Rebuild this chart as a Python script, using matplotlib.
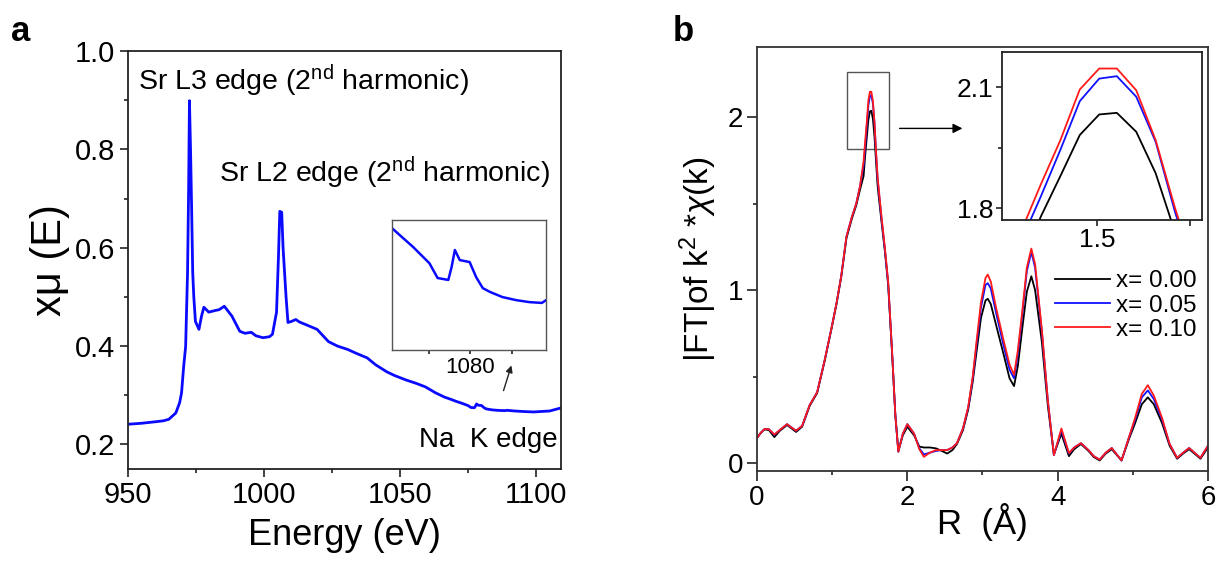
import matplotlib
matplotlib.use("Agg")
import matplotlib.pyplot as plt
from matplotlib.patches import Rectangle

plt.rcParams['font.family'] = ['Liberation Sans', 'DejaVu Sans']
plt.rcParams['mathtext.fontset'] = 'custom'
plt.rcParams['mathtext.rm'] = 'Liberation Sans'
plt.rcParams['mathtext.it'] = 'Liberation Sans:italic'

# ---- panel a: Sr L-edge / Na K-edge XAS ----
energy = [950, 955, 960, 963, 965, 967.6, 969.0, 969.7, 970.5, 971.2,
          971.9, 972.3, 972.6, 973.0, 973.4, 973.8, 974.2, 974.8, 976.1, 977.0,
          977.9, 979.7, 981.8, 983.5, 985.4, 988.2, 991.1, 993.0, 995.3, 997.0,
          999.6, 1002.0, 1003.1, 1004.6, 1005.3, 1005.8, 1006.5, 1007.0, 1008.1, 1008.8,
          1010.0, 1011.7, 1013.0, 1015.2, 1019.5, 1023.7, 1027, 1030.8, 1034, 1037.9,
          1041, 1045, 1048, 1052.2, 1056, 1059.3, 1063, 1066.4, 1068.5, 1070.4,
          1071.4, 1073.0, 1075.0, 1076.0, 1077.3, 1077.7, 1078.1, 1078.7, 1079.9, 1080.7,
          1081.5, 1082.4, 1083.9, 1085.6, 1087.2, 1088.7, 1089.2, 1092, 1095, 1099,
          1102, 1105, 1109]
mu = [0.241, 0.243, 0.246, 0.248, 0.251, 0.264, 0.285, 0.305, 0.36, 0.399,
      0.55, 0.72, 0.899, 0.80, 0.68, 0.55, 0.50, 0.45, 0.434, 0.46,
      0.479, 0.469, 0.472, 0.474, 0.481, 0.461, 0.430, 0.426, 0.428, 0.421,
      0.417, 0.419, 0.424, 0.469, 0.58, 0.674, 0.672, 0.60, 0.50, 0.448,
      0.450, 0.454, 0.449, 0.444, 0.434, 0.409, 0.400, 0.393, 0.385, 0.376,
      0.362, 0.348, 0.340, 0.331, 0.324, 0.317, 0.305, 0.296, 0.292, 0.288,
      0.2861, 0.2831, 0.2789, 0.2751, 0.2746, 0.2779, 0.2823, 0.2797, 0.2792, 0.2753,
      0.2725, 0.2715, 0.2702, 0.2694, 0.2689, 0.2687, 0.2694, 0.268, 0.267, 0.266,
      0.267, 0.268, 0.274]

# ---- panel b: |FT| of k^2 chi(k) ----
r = [0.00, 0.05, 0.10, 0.16, 0.23, 0.30, 0.40, 0.46, 0.52, 0.60,
     0.70, 0.80, 0.90, 1.00, 1.06, 1.12, 1.19, 1.26, 1.32, 1.37,
     1.418, 1.439, 1.460, 1.481, 1.502, 1.521, 1.542, 1.563, 1.584, 1.605,
     1.65, 1.70, 1.745, 1.80, 1.84, 1.88, 1.94, 2.00, 2.09, 2.16,
     2.22, 2.30, 2.38, 2.46, 2.53, 2.60, 2.66, 2.74, 2.81, 2.87,
     2.92, 2.98, 3.04, 3.07, 3.11, 3.18, 3.28, 3.36, 3.42, 3.47,
     3.53, 3.59, 3.65, 3.70, 3.79, 3.87, 3.95, 4.05, 4.15, 4.22,
     4.31, 4.41, 4.48, 4.56, 4.64, 4.72, 4.85, 4.95, 5.03, 5.12,
     5.20, 5.28, 5.39, 5.49, 5.59, 5.67, 5.75, 5.82, 5.90, 6.00]
ft_000 = [0.145, 0.175, 0.195, 0.190, 0.150, 0.185, 0.220, 0.200, 0.180, 0.210,
          0.330, 0.405, 0.590, 0.795, 0.925, 1.075, 1.30, 1.41, 1.49, 1.58,
          1.66, 1.78, 1.88, 1.982, 2.033, 2.037, 1.99, 1.887, 1.74, 1.60,
          1.42, 1.23, 1.03, 0.61, 0.28, 0.07, 0.16, 0.210, 0.160, 0.095,
          0.090, 0.090, 0.085, 0.070, 0.055, 0.075, 0.110, 0.190, 0.31, 0.47,
          0.64, 0.84, 0.94, 0.95, 0.92, 0.80, 0.63, 0.49, 0.445, 0.56,
          0.78, 0.99, 1.08, 1.00, 0.70, 0.33, 0.05, 0.17, 0.040, 0.080,
          0.110, 0.070, 0.035, 0.015, 0.055, 0.080, 0.015, 0.14, 0.23, 0.34,
          0.38, 0.34, 0.23, 0.10, 0.025, 0.055, 0.080, 0.055, 0.025, 0.09]
ft_005 = [0.145, 0.175, 0.197, 0.195, 0.163, 0.190, 0.225, 0.205, 0.187, 0.215,
          0.335, 0.410, 0.595, 0.800, 0.930, 1.080, 1.31, 1.42, 1.50, 1.60,
          1.72, 1.83, 1.945, 2.066, 2.122, 2.128, 2.077, 1.965, 1.79, 1.64,
          1.44, 1.24, 1.04, 0.62, 0.28, 0.065, 0.17, 0.225, 0.170, 0.085,
          0.050, 0.060, 0.070, 0.075, 0.075, 0.090, 0.115, 0.200, 0.32, 0.49,
          0.68, 0.90, 1.03, 1.04, 1.01, 0.87, 0.68, 0.54, 0.49, 0.63,
          0.86, 1.11, 1.22, 1.13, 0.76, 0.36, 0.046, 0.19, 0.055, 0.090,
          0.115, 0.075, 0.040, 0.020, 0.060, 0.087, 0.015, 0.15, 0.25, 0.38,
          0.42, 0.37, 0.25, 0.11, 0.030, 0.060, 0.087, 0.060, 0.030, 0.10]
ft_010 = [0.145, 0.175, 0.197, 0.195, 0.165, 0.190, 0.225, 0.205, 0.187, 0.215,
          0.335, 0.410, 0.595, 0.800, 0.930, 1.080, 1.31, 1.42, 1.50, 1.60,
          1.745, 1.86, 1.969, 2.095, 2.147, 2.147, 2.093, 1.969, 1.80, 1.65,
          1.45, 1.25, 1.05, 0.62, 0.28, 0.065, 0.17, 0.225, 0.170, 0.080,
          0.036, 0.060, 0.075, 0.075, 0.075, 0.090, 0.115, 0.200, 0.325, 0.50,
          0.70, 0.93, 1.07, 1.09, 1.05, 0.90, 0.71, 0.57, 0.51, 0.65,
          0.88, 1.13, 1.24, 1.15, 0.77, 0.36, 0.046, 0.20, 0.058, 0.090,
          0.115, 0.075, 0.040, 0.020, 0.060, 0.087, 0.015, 0.15, 0.26, 0.40,
          0.45, 0.39, 0.26, 0.11, 0.030, 0.060, 0.087, 0.060, 0.030, 0.10]
series_labels = ['x= 0.00', 'x= 0.05', 'x= 0.10']
series_colors = ['black', '#1010ff', '#ff1a1a']

fig = plt.figure(figsize=(12.22, 5.61), dpi=100)

def style_axis(ax, lw=1.3, color='#222222'):
    for sp in ax.spines.values():
        sp.set_linewidth(lw)
        sp.set_color(color)
    ax.tick_params(which='both', direction='out', top=False, right=False,
                   width=1.2, colors='#222222', labelcolor='black')
    ax.tick_params(which='major', length=6)
    ax.tick_params(which='minor', length=3)

# panel a
ax1 = fig.add_axes([0.1047, 0.164, 0.3541, 0.745])
ax1.plot(energy, mu, color='#0a0aff', lw=2.0)
ax1.set_xlim(950, 1109)
ax1.set_ylim(0.15, 1.0)
ax1.set_xticks([950, 1000, 1050, 1100])
ax1.set_xticks([975, 1025, 1075], minor=True)
ax1.set_yticks([0.2, 0.4, 0.6, 0.8, 1.0])
ax1.set_yticks([0.3, 0.5, 0.7, 0.9], minor=True)
ax1.set_yticklabels(['0.2', '0.4', '0.6', '0.8', '1.0'])
style_axis(ax1)
ax1.tick_params(which='major', labelsize=21, pad=3)
ax1.set_xlabel('Energy (eV)', fontsize=26, labelpad=6)
ax1.set_ylabel(u'x\u03bc (E)', fontsize=30, labelpad=4)
ax1.text(953.7, 0.94, r'Sr L3 edge (2$^{\rm nd}$ harmonic)', fontsize=20.5, va='center')
ax1.text(983.5, 0.752, r'Sr L2 edge (2$^{\rm nd}$ harmonic)', fontsize=20.5, va='center')
ax1.text(1108, 0.208, 'Na  K edge', fontsize=20, va='center', ha='right')
ax1.annotate('', xy=(1091.2, 0.366), xytext=(1087.7, 0.304),
             arrowprops=dict(arrowstyle='-|>', color='#222222', lw=1.0,
                             mutation_scale=10))
fig.text(0.017, 0.927, 'a', fontsize=25, fontweight='bold', ha='center', va='baseline')

# inset of panel a
ins1 = fig.add_axes([0.3205, 0.3761, 0.1263, 0.2317])
ins1.plot(energy, mu, color='#0a0aff', lw=1.8)
ins1.set_xlim(1070.4, 1089.2)
ins1.set_ylim(0.2566, 0.290)
ins1.set_xticks([1075, 1080, 1085])
ins1.set_xticklabels(['', '1080', ''])
ins1.set_yticks([])
style_axis(ins1, lw=1.0, color='#555555')
ins1.tick_params(which='major', length=3, labelsize=16, pad=2)

# panel b
ax2 = fig.add_axes([0.6195, 0.1604, 0.369, 0.7556])
for vals, lab, col in zip([ft_000, ft_005, ft_010], series_labels, series_colors):
    ax2.plot(r, vals, color=col, lw=1.3, label=lab)
ax2.set_xlim(0, 6)
ax2.set_ylim(-0.046, 2.405)
ax2.set_xticks([0, 2, 4, 6])
ax2.set_xticks([1, 3, 5], minor=True)
ax2.set_yticks([0, 1, 2])
ax2.set_yticks([0.5, 1.5], minor=True)
style_axis(ax2, color='#333333')
ax2.tick_params(which='major', length=7, labelsize=20, pad=3)
ax2.set_xlabel(u'R  (\u00c5)', fontsize=25, labelpad=-6)
ax2.set_ylabel(r'|FT|of k$^{2}$ *$\chi$(k)', fontsize=24, labelpad=6)
ax2.legend(loc='upper left', bbox_to_anchor=(0.661, 0.474), frameon=False,
           fontsize=17.5, handlelength=2.25, handletextpad=0.27,
           labelspacing=0.1, borderpad=0, borderaxespad=0)
ax2.add_patch(Rectangle((1.2, 1.815), 0.55, 0.447, fill=False,
                        edgecolor='#555555', lw=1.0))
ax2.annotate('', xy=(2.77, 1.935), xytext=(1.86, 1.935),
             arrowprops=dict(arrowstyle='-|>', color='black', lw=1.0,
                             mutation_scale=14))
fig.text(0.559, 0.927, 'b', fontsize=25, fontweight='bold', ha='center', va='baseline')

# inset of panel b
ins2 = fig.add_axes([0.82, 0.6078, 0.1636, 0.2995])
for vals, col in zip([ft_000, ft_005, ft_010], series_colors):
    ins2.plot(r, vals, color=col, lw=1.3)
ins2.set_xlim(1.397, 1.613)
ins2.set_ylim(1.771, 2.188)
ins2.set_xticks([1.5, 1.6])
ins2.set_xticklabels(['1.5', ''])
ins2.set_yticks([1.8, 2.1])
ins2.set_yticks([1.95], minor=True)
ins2.set_yticklabels(['1.8', '2.1'])
style_axis(ins2, lw=1.3, color='#222222')
ins2.tick_params(which='major', length=4, labelsize=19, pad=2)

fig.savefig('out.png', dpi=100)
